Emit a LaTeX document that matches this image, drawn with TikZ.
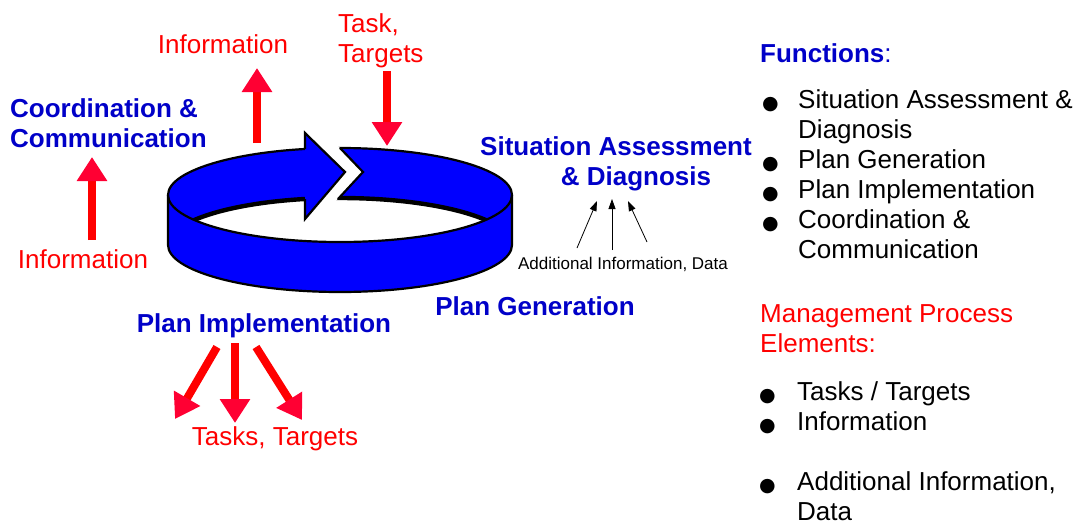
\documentclass[tikz,border=0pt]{standalone}
\usepackage{fontspec}
\setmainfont{Liberation Sans}
\newfontfamily\dotfont{DejaVu Sans}
\usetikzlibrary{arrows.meta}
\definecolor{ringblue}{RGB}{0,0,255}
\definecolor{labelblue}{RGB}{0,0,200}
\definecolor{labelred}{RGB}{255,0,0}
\definecolor{headred}{RGB}{255,0,51}
\def\toprim{(340,195) ellipse [x radius=172, y radius=47]}
\def\botrim{(340,245) ellipse [x radius=172, y radius=47]}
\def\ringbody{(168,195) arc [start angle=180, end angle=360, x radius=172, y radius=47] -- (512,245) arc [start angle=0, end angle=180, x radius=172, y radius=47] -- cycle}
\newcommand{\bul}{\smash{\raisebox{-1pt}{\fontsize{19}{19}\dotfont ●}}}
\tikzset{
  bigtext/.style={font=\fontsize{26}{30}\selectfont, inner sep=0pt},
  bluetext/.style={bigtext, text=labelblue},
  bluelabel/.style={bluetext, font=\fontsize{26}{30}\selectfont\bfseries},
  redlabel/.style={bigtext, text=labelred},
  redarrow/.style={draw=labelred, line width=8pt, -{Triangle[width=29pt, length=24pt, color=headred]}},
  thinarrow/.style={draw=black, line width=0.8pt, -{Triangle[width=7pt, length=10pt]}},
  rimline/.style={draw=black, line width=2.2pt}
}

\begin{document}
\begin{tikzpicture}[x=1pt, y=-1pt]
\useasboundingbox (0,0) rectangle (1085,525);

%drawing the ring
\filldraw[fill=ringblue, rimline] \ringbody;
\begin{scope}
  \clip \toprim;
  \fill[white] \botrim;
  \draw[rimline, line width=4.4pt] \botrim;
\end{scope}
\draw[rimline] (168,195) arc [start angle=180, end angle=0, x radius=172, y radius=47];

%gap and arrow head on the ring
\fill[white] (305,140) -- (332,140) -- (363,172) -- (332,205) -- (305,205) -- cycle;
\draw[rimline] (340,148) -- (363,172) -- (338,199);
\fill[ringblue] (305,149) -- (305,133) -- (345,172) -- (305,219) -- (305,199) -- cycle;
\draw[rimline] (305,149) -- (305,133) -- (345,172) -- (305,219) -- (305,199);

%labels round the ring
\node[redlabel, anchor=base] (infotop) at (223,53) {Information};
\node[redlabel, anchor=north west, align=left] (tasktop) at (338,13) {Task,\\Targets};
\node[bluelabel, anchor=north west, align=left] (coord) at (10,98) {Coordination \&\\Communication};
\node[redlabel, anchor=base] (infoleft) at (83,268) {Information};
\node[bluelabel, anchor=north, align=center] (situation) at (616,136) {Situation Assessment\\\hspace*{40pt}\& Diagnosis};
\node[bluelabel, anchor=base] (plangen) at (535,315) {Plan Generation};
\node[bluelabel, anchor=base] (planimp) at (264,332) {Plan Implementation};
\node[redlabel, anchor=base] (tasksbot) at (275,445) {Tasks, Targets};
\node[font=\fontsize{17}{20}\selectfont, inner sep=0pt, anchor=base] (addinfo) at (623,269) {Additional Information, Data};

%red arrows
\coordinate (infoout) at (257,143);
\coordinate (infoend) at (257,68);
\coordinate (taskin) at (387,71);
\coordinate (taskend) at (387,146);
\coordinate (leftin) at (92,240);
\coordinate (leftend) at (92,157);
\coordinate (impA) at (217,347);
\coordinate (impB) at (235,343);
\coordinate (impC) at (256,347);
\coordinate (outA) at (175,419);
\coordinate (outB) at (235,423);
\coordinate (outC) at (302,420);
\draw[redarrow] (infoout) -- (infoend);
\draw[redarrow] (taskin) -- (taskend);
\draw[redarrow] (leftin) -- (leftend);
\draw[redarrow] (impA) -- (outA);
\draw[redarrow] (impB) -- (outB);
\draw[redarrow] (impC) -- (outC);

%thin arrows into situation assessment
\coordinate (dataA) at (577,248);
\coordinate (dataB) at (612,250);
\coordinate (dataC) at (647,242);
\coordinate (sitA) at (597,201);
\coordinate (sitB) at (612,199);
\coordinate (sitC) at (628,201);
\draw[thinarrow] (dataA) -- (sitA);
\draw[thinarrow] (dataB) -- (sitB);
\draw[thinarrow] (dataC) -- (sitC);

%lists on the right
\node[bluetext, anchor=base west] (functions) at (760,62) {\textbf{Functions}:};
\node[bigtext, anchor=north west] (funclist) at (762,87) {%
  \begin{tabular}{@{}p{36pt}@{}l@{}}
    \bul & Situation Assessment \&\\
         & Diagnosis\\
    \bul & Plan Generation\\
    \bul & Plan Implementation\\
    \bul & Coordination \&\\
         & Communication
  \end{tabular}};
\node[redlabel, anchor=north west, align=left] (elements) at (760,304) {Management Process\\Elements:};
\node[bigtext, anchor=north west] (elemlist) at (759,379) {%
  \begin{tabular}{@{}p{38pt}@{}l@{}}
    \bul & Tasks / Targets\\
    \bul & Information\\
         & \\
    \bul & Additional Information,\\
         & Data
  \end{tabular}};
\end{tikzpicture}
\end{document}
